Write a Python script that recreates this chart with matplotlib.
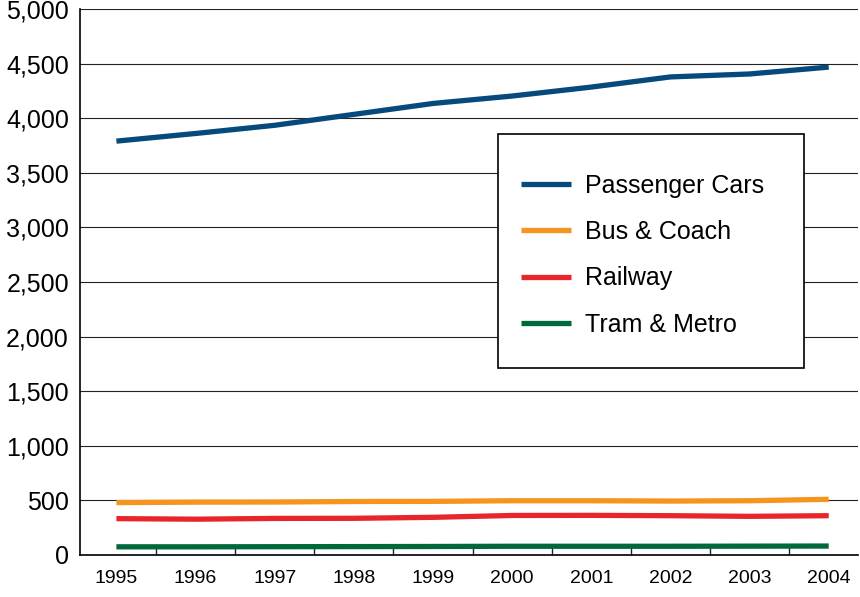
import matplotlib
matplotlib.use("Agg")
import matplotlib.pyplot as plt
from matplotlib.ticker import FuncFormatter, FixedLocator
from matplotlib.patches import Rectangle

years = ["1995", "1996", "1997", "1998", "1999", "2000", "2001", "2002", "2003", "2004"]
passenger_cars = [3790, 3860, 3935, 4035, 4135, 4203, 4285, 4378, 4405, 4468]
bus_coach = [480, 484, 485, 490, 491, 497, 497, 494, 497, 510]
railway = [333, 328, 335, 336, 345, 362, 363, 360, 354, 360]
tram_metro = [75, 75, 76, 77, 78, 80, 80, 80, 81, 82]
y_ticks = [0, 500, 1000, 1500, 2000, 2500, 3000, 3500, 4000, 4500, 5000]

plt.rcParams['font.family'] = ['Liberation Sans', 'DejaVu Sans']

W, H = 860, 597
fig = plt.figure(figsize=(W/100, H/100), dpi=100)
AX_L, AX_B, AX_W, AX_H = 80, 42, 778, 546
ax = fig.add_axes([AX_L/W, AX_B/H, AX_W/W, AX_H/H])

def axfrac(px, py):
    # pixel from top-left of figure -> axes fraction
    return (px - AX_L) / AX_W, ((H - py) - AX_B) / AX_H

x = list(range(len(years)))
series = [
    ("Passenger Cars", passenger_cars, "#064a7c"),
    ("Bus & Coach", bus_coach, "#f7941d"),
    ("Railway", railway, "#e8262a"),
    ("Tram & Metro", tram_metro, "#00693a"),
]
for name, vals, col in series:
    ax.plot(x, vals, color=col, lw=3.8, label=name, solid_capstyle='butt', zorder=3)

ax.set_ylim(0, 5000)
ax.set_xlim(-0.46, 9.37)
ax.set_yticks(y_ticks)
ax.yaxis.set_major_formatter(FuncFormatter(lambda v, p: f"{int(v):,}"))
ax.tick_params(axis='y', length=0, pad=8, labelsize=18)
ax.grid(axis='y', color='#222222', lw=0.8, zorder=1)

ax.set_xticks(x)
ax.set_xticklabels(years)
ax.tick_params(axis='x', which='major', length=0, pad=11, labelsize=14)
ax.xaxis.set_minor_locator(FixedLocator([i + 0.5 for i in range(len(years) - 1)]))
ax.tick_params(axis='x', which='minor', direction='in', length=7, width=1, color='#222222')

ax.spines['right'].set_visible(False)
ax.spines['top'].set_visible(False)
ax.spines['left'].set_linewidth(1.2)
ax.spines['bottom'].set_linewidth(1.2)

# legend box
x0, y0 = axfrac(498, 368)
x1, y1 = axfrac(804, 134)
ax.add_patch(Rectangle((x0, y0), x1 - x0, y1 - y0, transform=ax.transAxes,
                       facecolor='white', edgecolor='black', lw=1.2, zorder=4))

leg = ax.legend(loc='upper left', bbox_to_anchor=axfrac(521, 173.5),
                frameon=False, fontsize=18,
                handlelength=2.0, handletextpad=0.55, labelspacing=0.9,
                borderpad=0, borderaxespad=0)
leg.set_zorder(5)

fig.savefig("out.png", dpi=100, facecolor='white')
